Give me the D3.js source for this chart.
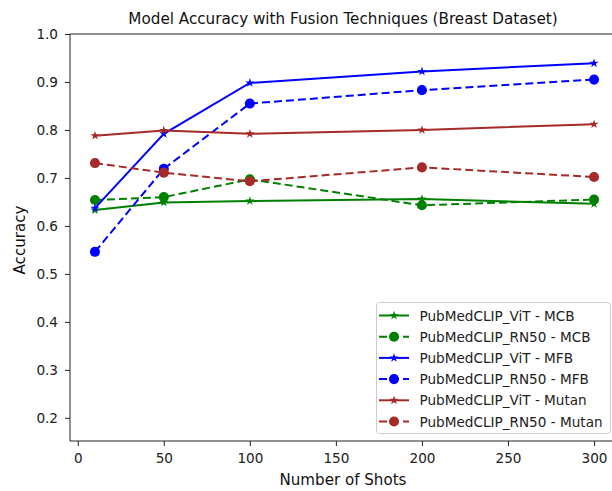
<!DOCTYPE html>
<html>
<head>
<meta charset="utf-8">
<script src="https://cdn.jsdelivr.net/npm/d3@7"></script>
<style>
  body { margin: 0; background: #fff; }
  svg { display: block; font-family: "DejaVu Sans", sans-serif; }
</style>
</head>
<body>
<svg id="chart" width="612" height="491"></svg>
<script>
// Number of shots on the x axis
const shots = [10, 50, 100, 200, 300];

// Accuracy per encoder / fusion combination
const vitMCB    = [0.633, 0.649, 0.652, 0.656, 0.646];
const rn50MCB   = [0.654, 0.660, 0.697, 0.643, 0.655];
const vitMFB    = [0.637, 0.792, 0.898, 0.922, 0.939];
const rn50MFB   = [0.546, 0.719, 0.855, 0.883, 0.905];
const vitMutan  = [0.788, 0.799, 0.792, 0.800, 0.812];
const rn50Mutan = [0.731, 0.711, 0.693, 0.722, 0.702];

const seriesNames = [
  "PubMedCLIP_ViT - MCB", "PubMedCLIP_RN50 - MCB",
  "PubMedCLIP_ViT - MFB", "PubMedCLIP_RN50 - MFB",
  "PubMedCLIP_ViT - Mutan", "PubMedCLIP_RN50 - Mutan"
];
const seriesValues = [vitMCB, rn50MCB, vitMFB, rn50MFB, vitMutan, rn50Mutan];
const seriesColors = ["green", "green", "blue", "blue", "brown", "brown"];
const seriesKinds  = ["star", "circle", "star", "circle", "star", "circle"];

const xTicks = [0, 50, 100, 150, 200, 250, 300];
const yTicks = [0.2, 0.3, 0.4, 0.5, 0.6, 0.7, 0.8, 0.9, 1.0];

const svg = d3.select("#chart");
const plot = { left: 70, right: 619, top: 34, bottom: 441 };

const x = d3.scaleLinear().domain([-4.5, 314.5]).range([plot.left, plot.right]);
const y = d3.scaleLinear().domain([0.1517, 1.0]).range([plot.bottom, plot.top]);

// Axes
const xAxis = d3.axisBottom(x).tickValues(xTicks).tickFormat(d3.format("d")).tickSizeOuter(0).tickSize(5).tickPadding(7);
const yAxis = d3.axisLeft(y).tickValues(yTicks).tickFormat(d3.format(".1f")).tickSizeOuter(0).tickSize(5).tickPadding(7);

const gx = svg.append("g").attr("transform", `translate(0,${plot.bottom})`).call(xAxis);
const gy = svg.append("g").attr("transform", `translate(${plot.left},0)`).call(yAxis);
[gx, gy].forEach(g => {
  g.select(".domain").remove();
  g.selectAll("text").attr("font-size", 13.6).attr("fill", "#222").attr("font-family", "DejaVu Sans");
  g.selectAll("line").attr("stroke", "#222").attr("stroke-width", 1);
});

// Spines (left, bottom, top)
svg.append("line").attr("x1", plot.left).attr("x2", plot.left).attr("y1", plot.top).attr("y2", plot.bottom).attr("stroke", "#222");
svg.append("line").attr("x1", plot.left).attr("x2", plot.right).attr("y1", plot.bottom).attr("y2", plot.bottom).attr("stroke", "#222");
svg.append("line").attr("x1", plot.left).attr("x2", plot.right).attr("y1", plot.top).attr("y2", plot.top).attr("stroke", "#222");

// Titles
svg.append("text").attr("x", 343).attr("y", 24)
  .attr("text-anchor", "middle").attr("font-size", 15.2).attr("fill", "#111")
  .text("Model Accuracy with Fusion Techniques (Breast Dataset)");
svg.append("text").attr("x", 343).attr("y", 485)
  .attr("text-anchor", "middle").attr("font-size", 15.1).attr("fill", "#111")
  .text("Number of Shots");
svg.append("text").attr("transform", `translate(25,240) rotate(-90)`)
  .attr("text-anchor", "middle").attr("font-size", 15.1).attr("fill", "#111")
  .text("Accuracy");

const starSym = d3.symbol().type(d3.symbolStar).size(26);
const circleSym = d3.symbol().type(d3.symbolCircle).size(80);

const line = d3.line().x((d, i) => x(shots[i])).y(d => y(d));
svg.append("clipPath").attr("id", "plotclip").append("rect")
  .attr("x", plot.left).attr("y", plot.top).attr("width", plot.right - plot.left).attr("height", plot.bottom - plot.top);

const layer = svg.append("g").attr("clip-path", "url(#plotclip)");

seriesValues.forEach((vals, s) => {
  const g = layer.append("g");
  g.append("path").datum(vals).attr("d", line)
    .attr("fill", "none").attr("stroke", seriesColors[s]).attr("stroke-width", 2)
    .attr("stroke-dasharray", seriesKinds[s] === "circle" ? "8,4" : null);
  g.selectAll("path.m").data(vals).enter().append("path").attr("class", "m")
    .attr("transform", (d, i) => `translate(${x(shots[i])},${y(d)})`)
    .attr("d", seriesKinds[s] === "star" ? starSym() : circleSym())
    .attr("fill", seriesColors[s]);
});

// Legend
const lg = svg.append("g").attr("transform", "translate(376,302)");
lg.append("rect").attr("x", 0.5).attr("y", 0.5).attr("width", 234).attr("height", 131).attr("rx", 3)
  .attr("fill", "#fff").attr("fill-opacity", 0.85).attr("stroke", "#ccc");
seriesNames.forEach((name, s) => {
  const cy = 13.5 + s * 21.2;
  const row = lg.append("g").attr("transform", `translate(0,${cy})`);
  row.append("line").attr("x1", 3).attr("x2", 33).attr("y1", 0).attr("y2", 0)
    .attr("stroke", seriesColors[s]).attr("stroke-width", 2)
    .attr("stroke-dasharray", seriesKinds[s] === "circle" ? "8,4" : null);
  row.append("path").attr("transform", "translate(18,0)")
    .attr("d", seriesKinds[s] === "star" ? starSym() : circleSym())
    .attr("fill", seriesColors[s]);
  row.append("text").attr("x", 43.5).attr("y", 5).attr("font-size", 13.6).attr("fill", "#222").text(name);
});
</script>
</body>
</html>
